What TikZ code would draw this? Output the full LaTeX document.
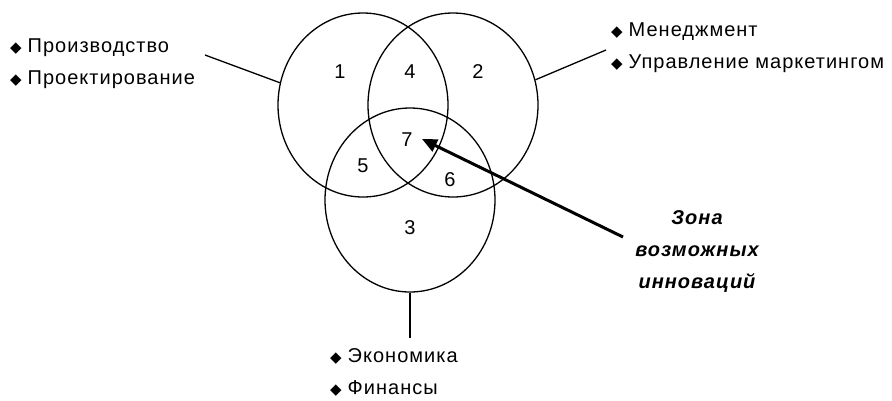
\documentclass[tikz,border=0pt]{standalone}
\usepackage{fontspec}
\setmainfont[LetterSpace=5]{Liberation Sans}
\newfontfamily\symfont{DejaVu Sans}
\usetikzlibrary{shapes.geometric,arrows.meta}
\newcommand{\bul}{{\symfont\fontsize{15}{15}\selectfont ◆}\hspace{6pt}}

\begin{document}
\begin{tikzpicture}[x=1pt,y=-1pt,
setnode/.style={ellipse, draw=black, line width=1.3pt, minimum width=170pt, minimum height=184pt, inner sep=0pt},
numnode/.style={font=\fontsize{20}{22}\selectfont},
listnode/.style={align=left, font=\fontsize{20}{32}\selectfont, inner sep=0pt},
]
\useasboundingbox (0,0) rectangle (892,400);
%Circles
\node[setnode]  (prod)  at (363,105) {};
\node[setnode]  (mgmt)  at (453,105) {};
\node[setnode]  (econ)  at (410,200) {};

%Numbers
\node[numnode]  (n1)    at (340,72)  {1};
\node[numnode]  (n4)    at (410,72)  {4};
\node[numnode]  (n2)    at (478,72)  {2};
\node[numnode]  (n7)    at (407,140) {7};
\node[numnode]  (n5)    at (363,166) {5};
\node[numnode]  (n6)    at (450,180) {6};
\node[numnode]  (n3)    at (410,228) {3};

%Labels
\node[listnode, anchor=west] (prodlist) at (10,64)   {\bul Производство\\\bul Проектирование};
\node[listnode, anchor=west] (mgmtlist) at (611,48) {\bul Менеджмент\\\bul Управление маркетингом};
\node[listnode, anchor=west] (econlist) at (330,372) {\bul Экономика\\\bul Финансы};
\node[align=center, inner sep=0pt, font=\fontsize{20}{32}\selectfont\bfseries\itshape] (zone) at (697,252) {Зона\\возможных\\инноваций};

\coordinate (prodend) at (205,55);
\coordinate (mgmtend) at (606,50);
\coordinate (econend) at (410,338);
\coordinate (zoneend) at (623,237);

%Lines
\draw[line width=1.3pt] (prodend) -- (prod.165);
\draw[line width=1.3pt] (mgmtend) -- (mgmt.17);
\draw[line width=1.3pt] (econend) -- (econ.south);
\draw[line width=3pt, -{Triangle[length=15pt,width=13pt]}] (zoneend) -- (422,139);
\end{tikzpicture}
\end{document}
